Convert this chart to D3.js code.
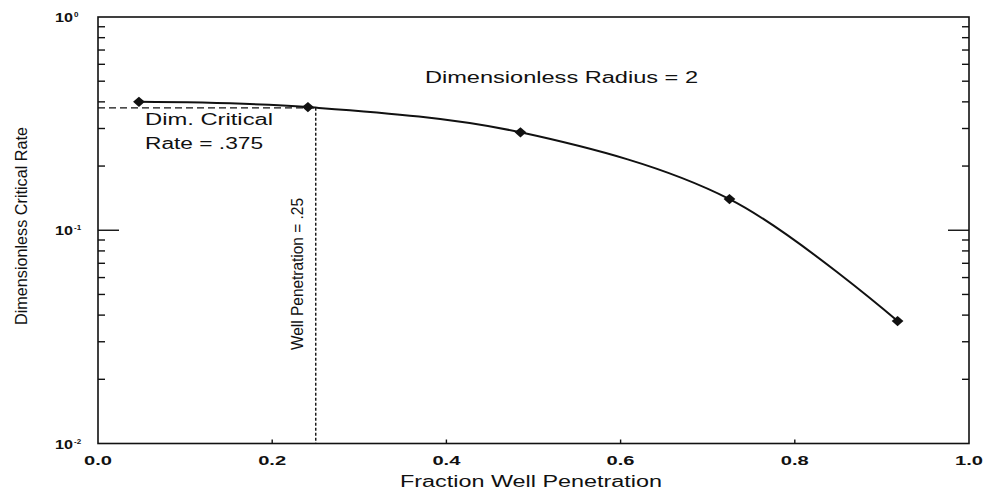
<!DOCTYPE html>
<html>
<head>
<meta charset="utf-8">
<script src="https://cdn.jsdelivr.net/npm/d3@7"></script>
<style>
  html, body { margin: 0; padding: 0; background: #fff; }
  svg text { fill: #111; }
</style>
</head>
<body>
<svg id="chart" width="984" height="491"></svg>
<script>
// Critical rate vs. well penetration (dimensionless radius = 2)
const penetration = [0.047, 0.241, 0.485, 0.725, 0.918];
const criticalRate = [0.40, 0.378, 0.288, 0.140, 0.0375];

const xTickValues = [0.0, 0.2, 0.4, 0.6, 0.8, 1.0];
const xTickLabels = ["0.0", "0.2", "0.4", "0.6", "0.8", "1.0"];
const yDecades = [1, 0.1, 0.01];
const yDecadeExponents = ["0", "-1", "-2"];

const refPenetration = 0.25;
const refRate = 0.375;

const svg = d3.select("#chart");
const plotLeft = 98, plotRight = 969, plotTop = 17, plotBottom = 443.5;

const x = d3.scaleLinear().domain([0, 1]).range([plotLeft, plotRight]);
const y = d3.scaleLog().domain([0.01, 1]).range([plotBottom, plotTop]);

const ink = "#111";

// frame
svg.append("rect")
  .attr("x", plotLeft).attr("y", plotTop)
  .attr("width", plotRight - plotLeft).attr("height", plotBottom - plotTop)
  .attr("fill", "none").attr("stroke", ink).attr("stroke-width", 1.6);

// y ticks, inside on both sides
const yTicks = y.ticks().filter(v => v > 0.01 && v < 1);
const g = svg.append("g").attr("stroke", ink).attr("stroke-width", 1.4);
yTicks.forEach(v => {
  const isMajor = yDecades.some(d => Math.abs(d - v) < 1e-9);
  const len = isMajor ? 21 : 7;
  g.append("line").attr("x1", plotLeft).attr("x2", plotLeft + len)
    .attr("y1", y(v)).attr("y2", y(v));
  g.append("line").attr("x1", plotRight).attr("x2", plotRight - len)
    .attr("y1", y(v)).attr("y2", y(v));
});

// x ticks, small marks on the bottom axis
xTickValues.filter(v => v > 0 && v < 1).forEach(v => {
  g.append("line").attr("x1", x(v)).attr("x2", x(v))
    .attr("y1", plotBottom).attr("y2", plotBottom - 4);
});

// x tick labels
svg.append("g").selectAll("text")
  .data(xTickValues)
  .join("text")
  .attr("x", d => x(d))
  .attr("y", 465)
  .attr("text-anchor", "middle")
  .attr("font-family", "Liberation Sans, Arial, sans-serif")
  .attr("font-weight", "bold")
  .attr("font-size", 12.5)
  .attr("textLength", 28)
  .attr("lengthAdjust", "spacingAndGlyphs")
  .text((d, i) => xTickLabels[i]);

// y decade labels
yDecades.forEach((v, i) => {
  const t = svg.append("text")
    .attr("x", 55)
    .attr("y", y(v) + 5)
    .attr("font-family", "Liberation Sans, Arial, sans-serif")
    .attr("font-weight", "bold")
    .attr("font-size", 12.5);
  t.append("tspan").text("10").attr("textLength", 18).attr("lengthAdjust", "spacingAndGlyphs");
  t.append("tspan").text(yDecadeExponents[i])
    .attr("dy", -5).attr("font-size", 8).attr("dx", 1);
});

// axis titles
svg.append("text")
  .attr("x", 531).attr("y", 487)
  .attr("text-anchor", "middle")
  .attr("font-family", "Liberation Sans, Arial, sans-serif")
  .attr("font-size", 16)
  .attr("textLength", 262)
  .attr("lengthAdjust", "spacingAndGlyphs")
  .text("Fraction Well Penetration");

svg.append("text")
  .attr("transform", "translate(27,226) rotate(-90)")
  .attr("text-anchor", "middle")
  .attr("font-family", "Liberation Sans Narrow, Liberation Sans, Arial, sans-serif")
  .attr("font-size", 17)
  .attr("textLength", 198)
  .attr("lengthAdjust", "spacingAndGlyphs")
  .text("Dimensionless Critical Rate");

// reference lines for the chosen penetration
const dash = svg.append("g")
  .attr("stroke", ink).attr("stroke-width", 1.4)
  .attr("stroke-dasharray", "7,4").attr("fill", "none");
dash.append("line")
  .attr("x1", x(0)).attr("x2", x(refPenetration))
  .attr("y1", y(refRate)).attr("y2", y(refRate));
dash.append("line")
  .attr("x1", x(refPenetration)).attr("x2", x(refPenetration))
  .attr("y1", y(refRate)).attr("y2", plotBottom)
  .attr("stroke-dasharray", "3,2");

// curve
const pts = penetration.map((p, i) => [p, criticalRate[i]]);
svg.append("path")
  .datum(pts)
  .attr("fill", "none")
  .attr("stroke", ink)
  .attr("stroke-width", 2)
  .attr("d", d3.line().x(d => x(d[0])).y(d => y(d[1])).curve(d3.curveCatmullRom.alpha(0.5)));

// markers: filled diamonds (squares turned 45°, slightly widened)
svg.append("g").selectAll("path")
  .data(pts)
  .join("path")
  .attr("transform", d => `translate(${x(d[0])},${y(d[1])}) scale(1.15,1) rotate(45)`)
  .attr("d", d3.symbol().type(d3.symbolSquare).size(52))
  .attr("fill", ink);

// annotations
const ann = svg.append("g")
  .attr("font-family", "Liberation Sans, Arial, sans-serif")
  .attr("font-size", 16);
ann.append("text").attr("x", 425).attr("y", 83)
  .attr("textLength", 273).attr("lengthAdjust", "spacingAndGlyphs")
  .text("Dimensionless Radius = 2");
ann.append("text").attr("x", 145).attr("y", 125)
  .attr("textLength", 128).attr("lengthAdjust", "spacingAndGlyphs")
  .text("Dim. Critical");
ann.append("text").attr("x", 145).attr("y", 149)
  .attr("textLength", 118).attr("lengthAdjust", "spacingAndGlyphs")
  .text("Rate = .375");

svg.append("text")
  .attr("transform", "translate(303,274) rotate(-90)")
  .attr("text-anchor", "middle")
  .attr("font-family", "Liberation Sans Narrow, Liberation Sans, Arial, sans-serif")
  .attr("font-size", 17)
  .attr("textLength", 152)
  .attr("lengthAdjust", "spacingAndGlyphs")
  .text("Well Penetration = .25");
</script>
</body>
</html>
